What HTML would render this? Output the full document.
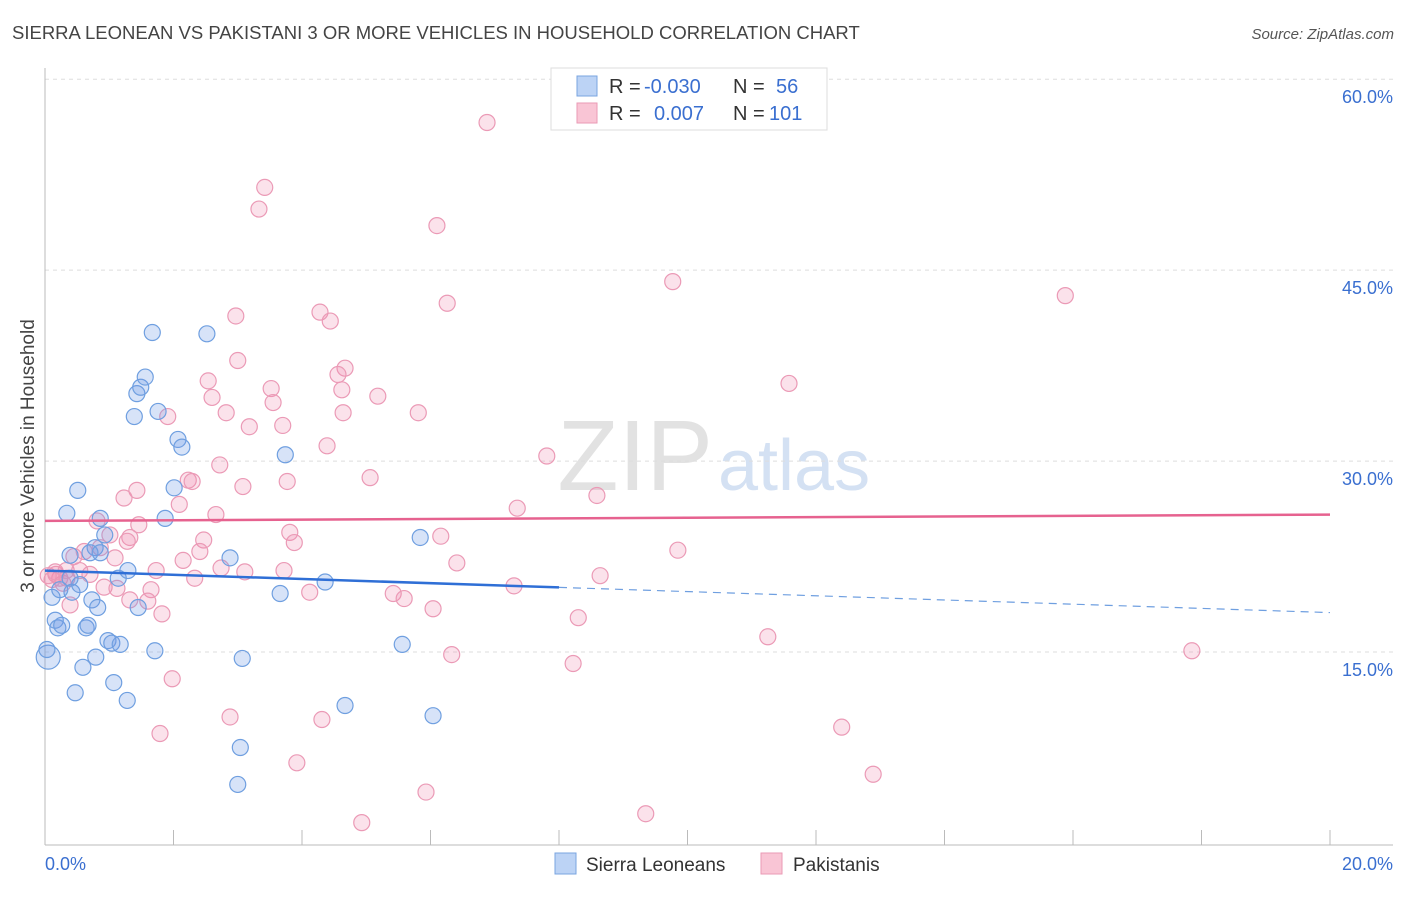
<!DOCTYPE html>
<html><head><meta charset="utf-8"><style>
body{margin:0;background:#fff;font-family:"Liberation Sans",sans-serif}
svg text{font-family:"Liberation Sans",sans-serif}
</style></head><body>
<svg id="chart" width="1406" height="892" xmlns="http://www.w3.org/2000/svg">
<text x="12" y="39" font-size="18.5" fill="#444">SIERRA LEONEAN VS PAKISTANI 3 OR MORE VEHICLES IN HOUSEHOLD CORRELATION CHART</text>
<text x="1394" y="39" font-size="15" fill="#555" text-anchor="end" font-style="italic">Source: ZipAtlas.com</text>
<g>
<text x="713" y="490" font-size="100" fill="#e2e2e2" text-anchor="end" font-family="Liberation Serif">ZIP</text>
<text x="718" y="490" font-size="72" fill="#d4e1f3">atlas</text>
</g>
<g id="grid"></g>
<g id="axes"></g>
<g id="pts"></g>
<g id="trends"></g>
<text transform="translate(34,456) rotate(-90)" font-size="19" fill="#444" text-anchor="middle">3 or more Vehicles in Household</text>
<g>
<rect x="551" y="68" width="276" height="62" fill="#fff" stroke="#ddd"/>
<rect x="577" y="76" width="20" height="20" fill="#bcd3f5" stroke="#7aa5e0"/>
<rect x="577" y="103" width="20" height="20" fill="#f9c5d5" stroke="#ea9ab5"/>
<text x="609" y="93" font-size="20" fill="#333">R =</text>
<text x="644" y="93" font-size="20" fill="#3a6fd0">-0.030</text>
<text x="733" y="93" font-size="20" fill="#333">N =</text>
<text x="776" y="93" font-size="20" fill="#3a6fd0">56</text>
<text x="609" y="120" font-size="20" fill="#333">R =</text>
<text x="654" y="120" font-size="20" fill="#3a6fd0">0.007</text>
<text x="733" y="120" font-size="20" fill="#333">N =</text>
<text x="769" y="120" font-size="20" fill="#3a6fd0">101</text>
</g>
<g>
<rect x="555" y="853" width="21" height="21" fill="#bcd3f5" stroke="#7aa5e0"/>
<text x="586" y="871" font-size="19" fill="#333">Sierra Leoneans</text>
<rect x="761" y="853" width="21" height="21" fill="#f9c5d5" stroke="#ea9ab5"/>
<text x="793" y="871" font-size="19" fill="#333">Pakistanis</text>
</g>
</svg>
<script>
const xTicks=[0,2,4,6,8,10,12,14,16,18,20];
const yTicks=[15,30,45,60];
const yTickLabels=["15.0%","30.0%","45.0%","60.0%"];
const xLabels=["0.0%","20.0%"];
const blueX=[0.05,0.03,0.11,0.16,0.20,0.26,0.34,0.39,0.42,0.47,0.51,0.54,0.59,0.64,0.67,0.73,0.78,0.79,0.82,0.86,0.93,0.98,1.04,1.07,1.14,1.17,1.28,1.29,1.39,1.43,1.45,1.49,1.56,1.67,1.71,1.76,1.87,2.01,2.07,2.13,2.52,2.88,3.04,3.00,3.07,3.66,3.74,4.36,4.67,5.56,5.84,6.04,0.23,0.39,0.70,0.86];
const blueY=[14.6,15.2,19.3,17.5,16.9,17.1,25.9,22.6,19.7,11.8,27.7,20.3,13.8,16.9,17.1,19.1,23.2,14.6,18.5,25.5,24.2,15.9,15.7,12.6,20.8,15.6,11.2,21.4,33.5,35.3,18.5,35.8,36.6,40.1,15.1,33.9,25.5,27.9,31.7,31.1,40.0,22.4,7.5,4.6,14.5,19.6,30.5,20.5,10.8,15.6,24.0,10.0,19.9,20.8,22.8,22.8];
const pinkX=[6.88,3.42,3.33,6.10,9.77,15.88,6.26,4.28,2.97,4.44,4.67,4.56,3.00,2.54,3.52,2.60,3.55,4.62,5.18,4.64,5.81,11.58,1.91,2.82,3.18,3.70,4.39,7.81,2.72,5.06,2.23,2.29,3.08,3.77,1.43,1.23,2.09,2.66,7.35,8.59,0.81,1.46,1.01,1.32,1.28,2.47,3.81,3.88,6.16,9.85,0.86,1.09,0.45,0.61,2.41,2.15,6.41,0.17,0.23,0.28,0.34,0.70,0.92,1.12,1.73,2.33,2.74,3.11,3.72,4.12,5.42,5.59,8.64,7.30,1.65,1.60,1.82,6.04,8.30,11.25,6.33,8.22,1.98,17.85,2.88,4.31,1.79,12.40,3.92,12.89,5.93,9.35,4.93,0.11,0.05,0.16,0.33,0.54,0.39,1.32];
const pinkY=[56.6,51.5,49.8,48.5,44.1,43.0,42.4,41.7,41.4,41.0,37.3,36.8,37.9,36.3,35.7,35.0,34.6,35.6,35.1,33.8,33.8,36.1,33.5,33.8,32.7,32.8,31.2,30.4,29.7,28.7,28.5,28.4,28.0,28.4,27.7,27.1,26.6,25.8,26.3,27.3,25.3,25.0,24.2,24.0,23.7,23.8,24.4,23.6,24.1,23.0,23.2,22.4,22.5,22.9,22.9,22.2,22.0,21.1,20.8,20.4,20.8,21.1,20.1,20.0,21.4,20.8,21.6,21.3,21.4,19.7,19.6,19.2,21.0,20.2,19.9,19.0,18.0,18.4,17.7,16.2,14.8,14.1,12.9,15.1,9.9,9.7,8.6,9.1,6.3,5.4,4.0,2.3,1.6,20.7,21.0,21.3,21.4,21.4,18.7,19.1];
const blueTrend=[21.4,18.1];
const pinkTrend=[25.3,25.8];
const NS="http://www.w3.org/2000/svg";
const X=v=>45+v/20*1285, Y=v=>843-v*12.73;
function mk(t,a,p){const e=document.createElementNS(NS,t);for(const k in a)e.setAttribute(k,a[k]);p.appendChild(e);return e;}
const grid=document.getElementById('grid'),axes=document.getElementById('axes');
yTicks.forEach((t,i)=>{
 const l=mk('line',{x1:45,x2:1393,y1:Y(t),y2:Y(t),stroke:'#ddd','stroke-dasharray':'4,4'},grid);
 
 
 const tx=mk('text',{x:1393,y:Y(t)+24,'font-size':18,fill:'#3a6fd0','text-anchor':'end'},axes);
 tx.textContent=yTickLabels[i];
 
 
});
mk('line',{x1:45,x2:45,y1:68,y2:845,stroke:'#bbb'},axes);
mk('line',{x1:45,x2:1393,y1:845,y2:845,stroke:'#bbb'},axes);
xTicks.forEach(t=>{const l=mk('line',{x1:X(t),x2:X(t),y1:830,y2:845,stroke:'#bbb'},axes);
 
 });
[[0,45,'start'],[20,1393,'end']].forEach((d,i)=>{const t=mk('text',{x:d[1],y:870,'font-size':18,fill:'#3a6fd0','text-anchor':d[2]},axes);t.textContent=xLabels[i];
 
 });
const pts=document.getElementById('pts');
pinkX.forEach((x,i)=>{const c=mk('circle',{cx:X(x),cy:Y(pinkY[i]),r:8,fill:'rgba(240,140,175,0.25)',stroke:'#eb9ab6','stroke-width':1.2},pts);
 
 });
blueX.forEach((x,i)=>{const c=mk('circle',{cx:X(x),cy:Y(blueY[i]),r:i==0?12:8,fill:'rgba(110,155,230,0.28)',stroke:'#6f9fe0','stroke-width':1.2},pts);
 
 });
const tr=document.getElementById('trends');
const bm=blueTrend[0]+(blueTrend[1]-blueTrend[0])*(8/20);
let l=mk('line',{x1:X(0),y1:Y(blueTrend[0]),x2:X(8),y2:Y(bm),stroke:'#2f6fd6','stroke-width':2.5},tr);


l=mk('line',{x1:X(8),y1:Y(bm),x2:X(20),y2:Y(blueTrend[1]),stroke:'#6f9fe0','stroke-width':1.2,'stroke-dasharray':'8,6'},tr);


l=mk('line',{x1:X(0),y1:Y(pinkTrend[0]),x2:X(20),y2:Y(pinkTrend[1]),stroke:'#e6628f','stroke-width':2.5},tr);


</script>
</body></html>
